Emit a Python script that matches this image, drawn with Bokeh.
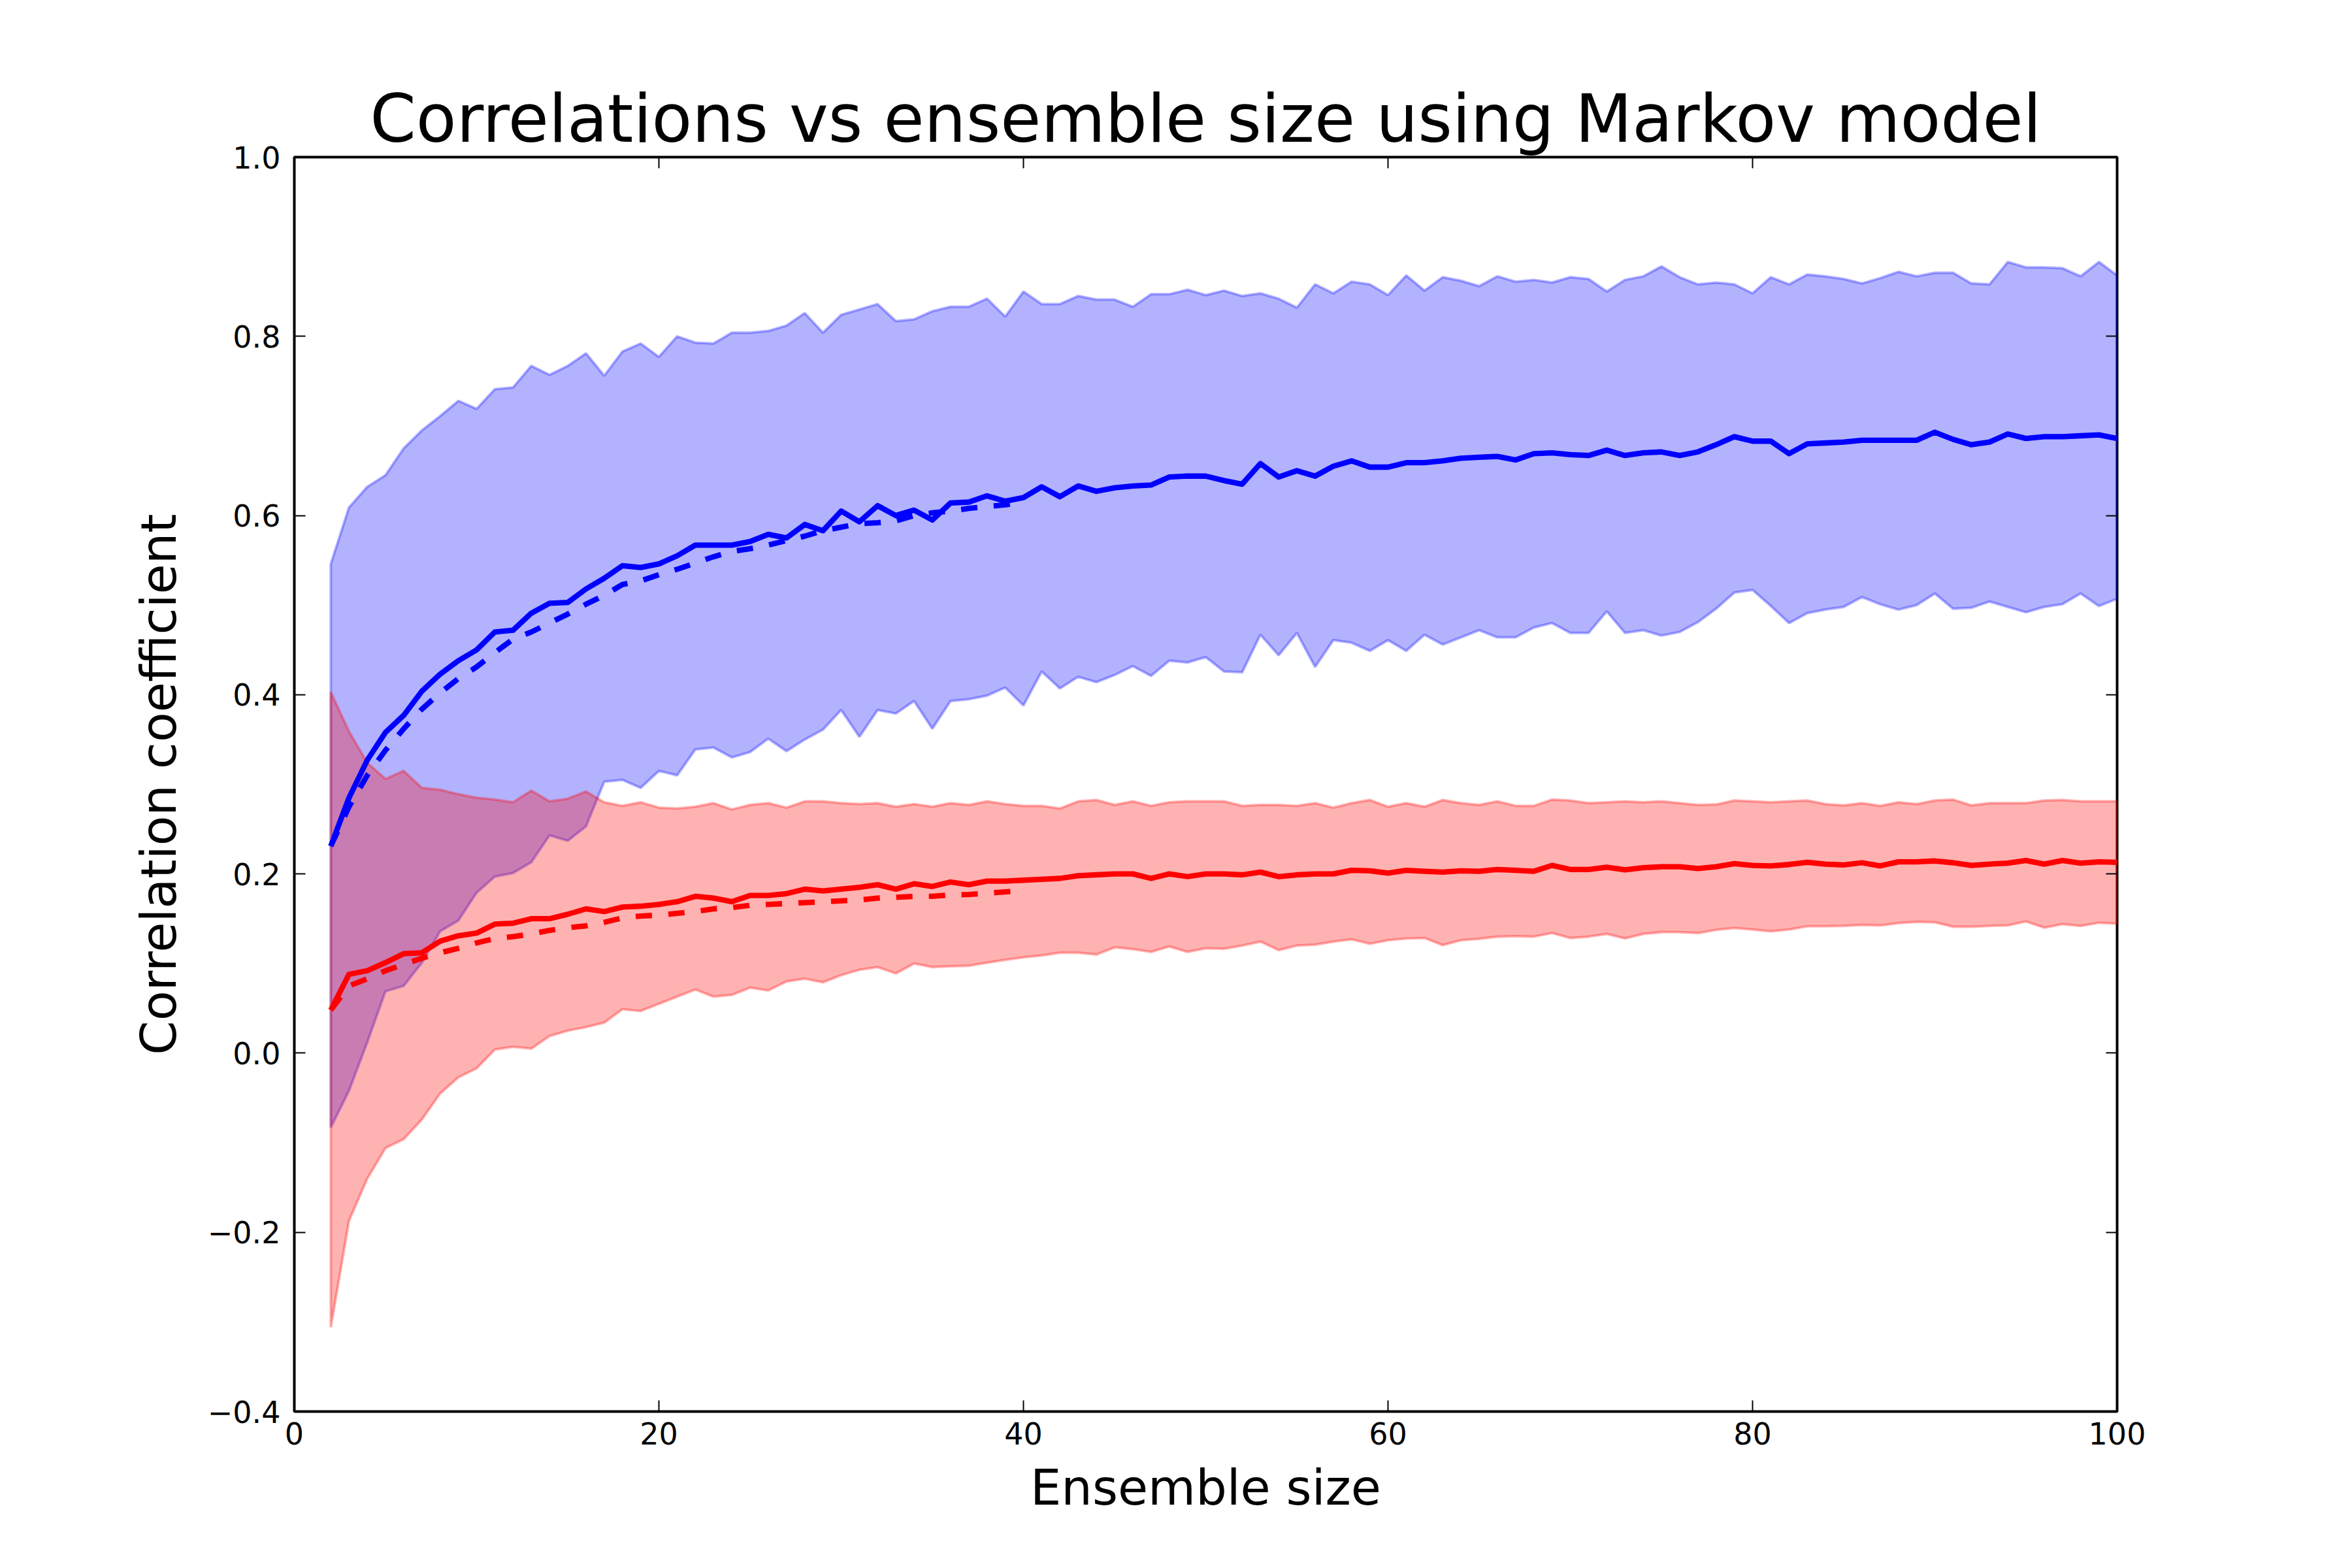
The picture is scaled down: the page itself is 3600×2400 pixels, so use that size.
from bokeh.plotting import figure
from bokeh.models import LinearAxis, FixedTicker, CustomJSTickFormatter, Range1d
from bokeh.embed import file_html
from bokeh.resources import INLINE
import numpy as np

# ---------------- data ----------------
ensemble_size = list(range(2, 101))
ensemble_size_short = list(range(2, 41))

blue_mean = [0.231, 0.285, 0.327, 0.358, 0.377, 0.404, 0.423, 0.438, 0.450, 0.470,
             0.472, 0.491, 0.502, 0.503, 0.518, 0.530, 0.544, 0.542, 0.546, 0.555,
             0.567, 0.567, 0.567, 0.571, 0.579, 0.575, 0.590, 0.583, 0.605, 0.593,
             0.611, 0.600, 0.606, 0.595, 0.614, 0.615, 0.622, 0.616, 0.620, 0.632,
             0.621, 0.633, 0.627, 0.631, 0.633, 0.634, 0.643, 0.644, 0.644, 0.639,
             0.635, 0.658, 0.643, 0.650, 0.644, 0.655, 0.661, 0.654, 0.654, 0.659,
             0.659, 0.661, 0.664, 0.665, 0.666, 0.662, 0.669, 0.670, 0.668, 0.667,
             0.673, 0.667, 0.670, 0.671, 0.667, 0.671, 0.679, 0.688, 0.683, 0.683,
             0.669, 0.680, 0.681, 0.682, 0.684, 0.684, 0.684, 0.684, 0.693, 0.685,
             0.679, 0.682, 0.691, 0.686, 0.688, 0.688, 0.689, 0.690, 0.686]

blue_upper = [0.546, 0.609, 0.632, 0.645, 0.675, 0.695, 0.711, 0.728, 0.719, 0.741,
              0.743, 0.767, 0.757, 0.767, 0.781, 0.756, 0.783, 0.792, 0.777, 0.800,
              0.793, 0.792, 0.804, 0.804, 0.806, 0.812, 0.826, 0.804, 0.824, 0.830,
              0.836, 0.817, 0.819, 0.828, 0.833, 0.833, 0.842, 0.822, 0.850, 0.836,
              0.836, 0.845, 0.841, 0.841, 0.833, 0.847, 0.847, 0.852, 0.846, 0.851,
              0.845, 0.848, 0.842, 0.832, 0.858, 0.848, 0.861, 0.858, 0.846, 0.868,
              0.851, 0.866, 0.862, 0.856, 0.867, 0.861, 0.863, 0.860, 0.866, 0.864,
              0.850, 0.863, 0.867, 0.878, 0.866, 0.858, 0.860, 0.858, 0.848, 0.866,
              0.858, 0.869, 0.867, 0.864, 0.859, 0.865, 0.872, 0.867, 0.871, 0.871,
              0.859, 0.858, 0.883, 0.877, 0.877, 0.876, 0.867, 0.883, 0.868]

blue_lower = [-0.083, -0.042, 0.012, 0.069, 0.075, 0.101, 0.136, 0.148, 0.179, 0.197,
              0.201, 0.213, 0.243, 0.237, 0.253, 0.303, 0.305, 0.296, 0.315, 0.310,
              0.339, 0.341, 0.330, 0.336, 0.351, 0.337, 0.350, 0.361, 0.383, 0.353,
              0.383, 0.379, 0.393, 0.362, 0.393, 0.395, 0.399, 0.408, 0.388, 0.426,
              0.407, 0.420, 0.414, 0.422, 0.432, 0.421, 0.438, 0.436, 0.442, 0.426,
              0.425, 0.467, 0.444, 0.469, 0.431, 0.461, 0.458, 0.449, 0.461, 0.449,
              0.467, 0.456, 0.464, 0.472, 0.464, 0.464, 0.475, 0.480, 0.469, 0.469,
              0.493, 0.469, 0.472, 0.466, 0.470, 0.481, 0.496, 0.514, 0.517, 0.499,
              0.480, 0.491, 0.495, 0.498, 0.509, 0.501, 0.495, 0.500, 0.513, 0.496,
              0.497, 0.504, 0.498, 0.492, 0.498, 0.501, 0.513, 0.499, 0.507]

red_mean = [0.048, 0.088, 0.092, 0.101, 0.111, 0.112, 0.125, 0.131, 0.134, 0.144,
            0.145, 0.150, 0.150, 0.155, 0.161, 0.158, 0.163, 0.164, 0.166, 0.169,
            0.175, 0.173, 0.169, 0.176, 0.176, 0.178, 0.183, 0.181, 0.183, 0.185,
            0.188, 0.183, 0.189, 0.186, 0.191, 0.188, 0.192, 0.192, 0.193, 0.194,
            0.195, 0.198, 0.199, 0.200, 0.200, 0.195, 0.200, 0.197, 0.200, 0.200,
            0.199, 0.202, 0.197, 0.199, 0.200, 0.200, 0.204, 0.2035, 0.201, 0.204,
            0.203, 0.202, 0.2035, 0.203, 0.205, 0.204, 0.203, 0.2095, 0.205, 0.205,
            0.2075, 0.2045, 0.207, 0.208, 0.208, 0.206, 0.208, 0.2115, 0.2095, 0.209,
            0.2105, 0.213, 0.211, 0.210, 0.2125, 0.209, 0.2135, 0.2135, 0.2145, 0.2125,
            0.2095, 0.211, 0.212, 0.215, 0.211, 0.215, 0.212, 0.2135, 0.213]

red_upper = [0.403, 0.359, 0.324, 0.306, 0.315, 0.296, 0.294, 0.289, 0.285, 0.283,
             0.280, 0.293, 0.281, 0.284, 0.292, 0.280, 0.276, 0.280, 0.274, 0.273,
             0.275, 0.279, 0.272, 0.277, 0.279, 0.274, 0.281, 0.281, 0.279, 0.278,
             0.279, 0.275, 0.278, 0.275, 0.279, 0.277, 0.281, 0.278, 0.276, 0.276,
             0.273, 0.281, 0.2825, 0.277, 0.281, 0.276, 0.280, 0.281, 0.281, 0.281,
             0.276, 0.277, 0.277, 0.276, 0.279, 0.274, 0.279, 0.2825, 0.275, 0.279,
             0.275, 0.2825, 0.279, 0.277, 0.281, 0.276, 0.276, 0.283, 0.282, 0.279,
             0.280, 0.281, 0.280, 0.281, 0.279, 0.277, 0.2775, 0.282, 0.281, 0.280,
             0.281, 0.282, 0.278, 0.2765, 0.279, 0.276, 0.280, 0.278, 0.282, 0.283,
             0.2765, 0.279, 0.279, 0.279, 0.282, 0.2825, 0.281, 0.281, 0.281]

red_lower = [-0.306, -0.187, -0.140, -0.106, -0.096, -0.074, -0.045, -0.027, -0.017, 0.004,
             0.007, 0.005, 0.019, 0.025, 0.029, 0.034, 0.049, 0.047, 0.055, 0.063,
             0.071, 0.063, 0.065, 0.073, 0.070, 0.080, 0.083, 0.079, 0.087, 0.093,
             0.096, 0.089, 0.100, 0.096, 0.097, 0.0975, 0.101, 0.104, 0.107, 0.109,
             0.112, 0.112, 0.110, 0.118, 0.116, 0.113, 0.119, 0.113, 0.117, 0.1165,
             0.120, 0.1245, 0.115, 0.120, 0.121, 0.1245, 0.127, 0.122, 0.126, 0.128,
             0.1285, 0.1205, 0.126, 0.1275, 0.130, 0.1305, 0.130, 0.134, 0.1285, 0.130,
             0.133, 0.128, 0.133, 0.135, 0.135, 0.134, 0.1375, 0.1395, 0.138, 0.136,
             0.138, 0.1415, 0.1415, 0.142, 0.143, 0.1425, 0.145, 0.1465, 0.146, 0.141,
             0.141, 0.142, 0.1425, 0.147, 0.140, 0.144, 0.142, 0.1455, 0.1445]

blue_dashed = [0.231, 0.275, 0.310, 0.338, 0.362, 0.384, 0.402, 0.418, 0.431, 0.447,
               0.462, 0.470, 0.480, 0.490, 0.501, 0.511, 0.523, 0.527, 0.534, 0.540,
               0.547, 0.554, 0.560, 0.563, 0.567, 0.572, 0.577, 0.583, 0.587, 0.591,
               0.592, 0.594, 0.600, 0.603, 0.605, 0.608, 0.610, 0.612, 0.615]

red_dashed = [0.048, 0.075, 0.083, 0.092, 0.099, 0.106, 0.112, 0.117, 0.123, 0.128,
              0.130, 0.133, 0.137, 0.140, 0.142, 0.146, 0.151, 0.153, 0.154, 0.156,
              0.158, 0.161, 0.1625, 0.165, 0.166, 0.167, 0.168, 0.169, 0.170, 0.171,
              0.173, 0.174, 0.175, 0.175, 0.1765, 0.177, 0.1785, 0.180, 0.181]

x_ticks = [0, 20, 40, 60, 80, 100]
y_ticks = [-0.4, -0.2, 0.0, 0.2, 0.4, 0.6, 0.8, 1.0]

title_text = "Correlations vs ensemble size using Markov model"
x_label = "Ensemble size"
y_label = "Correlation coefficient"

# ---------------- figure ----------------
FONT = "DejaVu Sans"
p = figure(frame_width=2790, frame_height=1920,
           min_border_left=450, min_border_right=350,
           min_border_top=240, min_border_bottom=232,
           x_range=Range1d(0, 100), y_range=Range1d(-0.4, 1.0),
           output_backend="svg", toolbar_location=None,
           x_axis_location=None, y_axis_location=None)
p.background_fill_color = "white"
p.border_fill_color = "white"
p.grid.visible = False
p.outline_line_color = "black"
p.outline_line_width = 4

p.title.text = title_text
p.title.text_font = FONT
p.title.text_font_size = "101px"
p.title.text_font_style = "normal"
p.title.align = "center"
p.title.text_color = "black"
p.title.standoff = 0

xt = FixedTicker(ticks=x_ticks, minor_ticks=[])
yt = FixedTicker(ticks=y_ticks, minor_ticks=[])
yfmt = CustomJSTickFormatter(code="""
    const v = Math.abs(tick) < 1e-9 ? 0 : tick;
    const s = Math.abs(v).toFixed(1);
    return v < 0 ? "\\u2212" + s : s;
""")
xfmt = CustomJSTickFormatter(code="return String(Math.round(tick));")
blank = CustomJSTickFormatter(code="return '';")


def style_axis(ax):
    ax.axis_line_color = None
    ax.major_tick_in = 17
    ax.major_tick_out = 0
    ax.major_tick_line_width = 2
    ax.major_tick_line_color = "black"
    ax.minor_tick_line_color = None
    ax.major_label_text_font = FONT
    ax.major_label_text_font_size = "46px"
    ax.major_label_text_color = "black"
    ax.axis_label_text_font = FONT
    ax.axis_label_text_font_size = "75px"
    ax.axis_label_text_font_style = "normal"
    ax.axis_label_text_color = "black"


xb = LinearAxis(ticker=xt, formatter=xfmt, axis_label=x_label)
style_axis(xb)
xb.major_label_standoff = 16
xb.axis_label_standoff = 19
p.add_layout(xb, "below")

yl = LinearAxis(ticker=yt, formatter=yfmt, axis_label=y_label)
style_axis(yl)
yl.major_label_standoff = 21
yl.axis_label_standoff = 28
p.add_layout(yl, "left")

xa = LinearAxis(ticker=xt, formatter=blank)
style_axis(xa)
xa.major_label_standoff = 0
xa.major_label_text_font_size = "1px"
p.add_layout(xa, "above")

yr = LinearAxis(ticker=yt, formatter=blank)
style_axis(yr)
yr.major_label_standoff = 0
yr.major_label_text_font_size = "1px"
p.add_layout(yr, "right")

# ---------------- bands ----------------
xs = np.array(ensemble_size, dtype=float)
band_x = np.concatenate([xs, xs[::-1]])

p.patch(band_x, np.concatenate([np.array(blue_upper), np.array(blue_lower)[::-1]]),
        fill_color="blue", fill_alpha=0.3,
        line_color="blue", line_alpha=0.3, line_width=4)
p.patch(band_x, np.concatenate([np.array(red_upper), np.array(red_lower)[::-1]]),
        fill_color="red", fill_alpha=0.3,
        line_color="red", line_alpha=0.3, line_width=4)

# ---------------- lines ----------------
LW = 8.3
p.line(ensemble_size, blue_mean, line_color="blue", line_width=LW, line_join="round")
p.line(ensemble_size_short, blue_dashed, line_color="blue", line_width=LW,
       line_dash="25 25", line_join="round")
p.line(ensemble_size, red_mean, line_color="red", line_width=LW, line_join="round")
p.line(ensemble_size_short, red_dashed, line_color="red", line_width=LW,
       line_dash="25 25", line_join="round")

open("out.html", "w").write(file_html(p, INLINE))
